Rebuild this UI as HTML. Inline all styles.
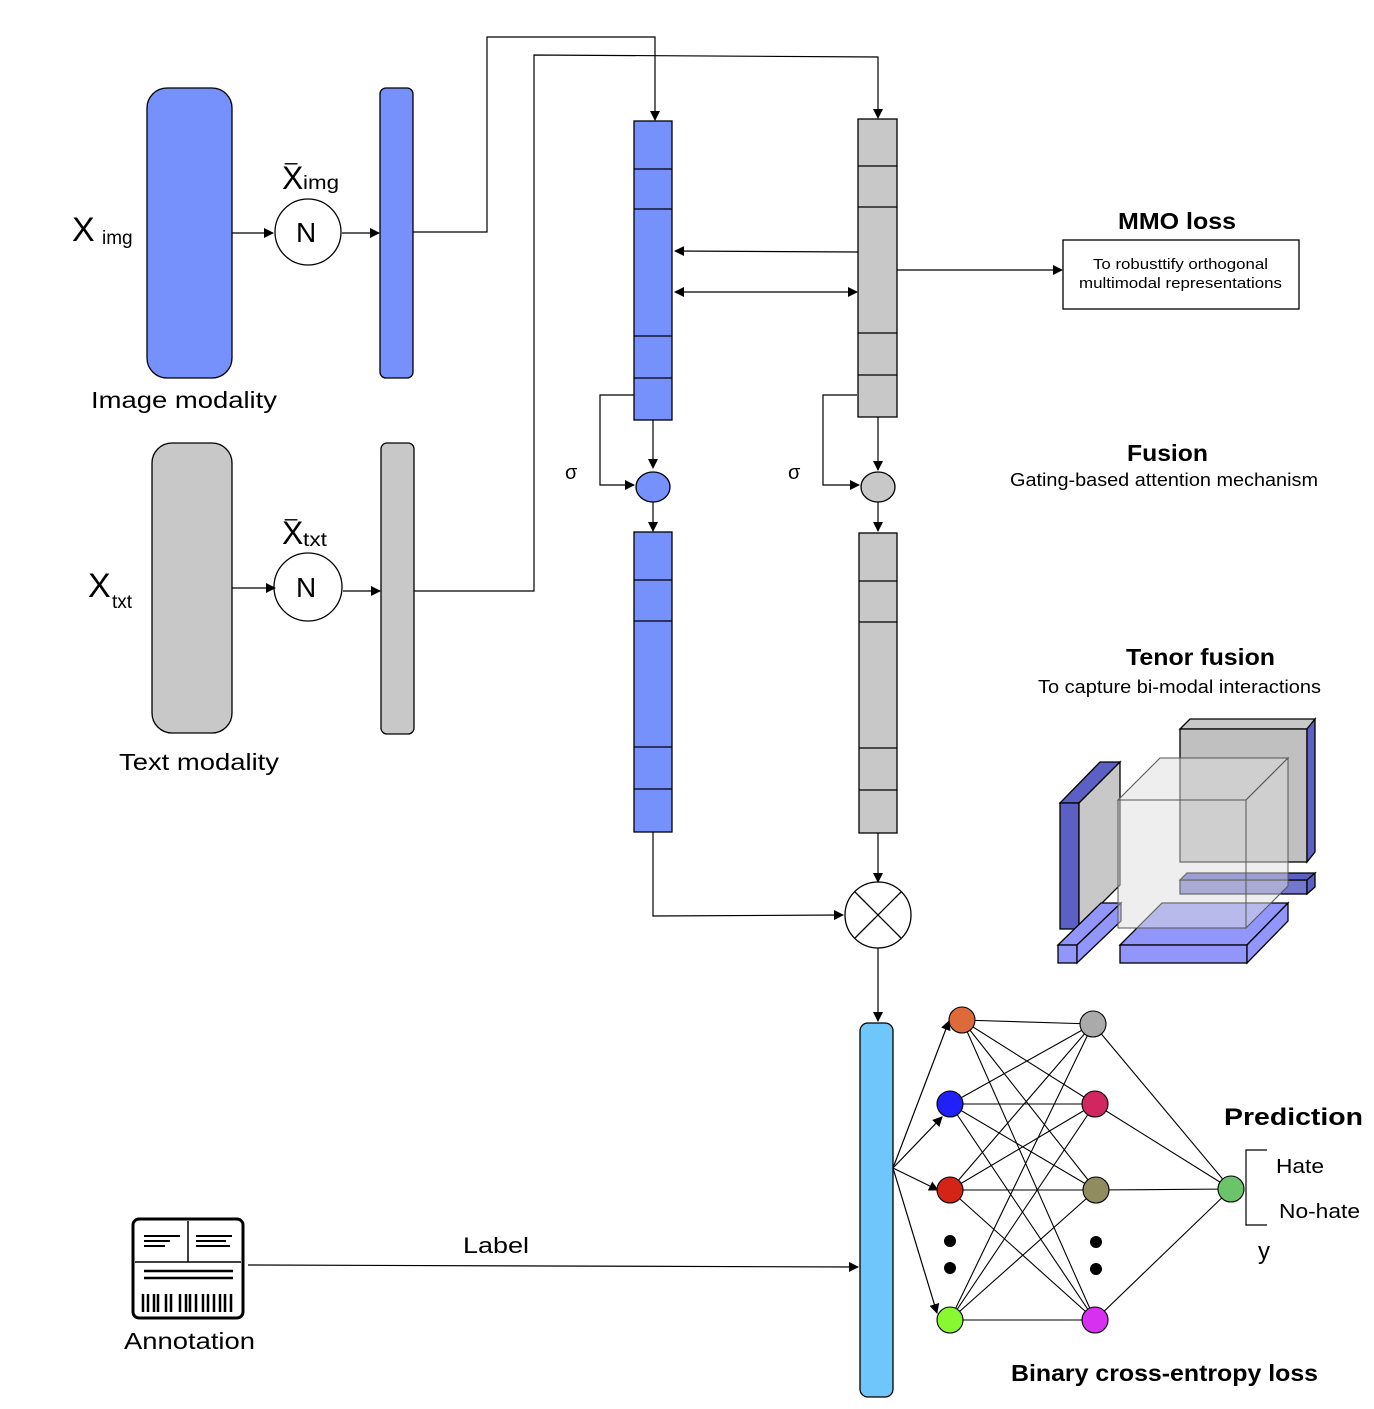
<!DOCTYPE html>
<html><head><style>body{margin:0;background:#fff}svg{display:block}text{font-family:"Liberation Sans",Arial,sans-serif}</style></head><body>
<svg width="1374" height="1409" viewBox="0 0 1374 1409" xmlns="http://www.w3.org/2000/svg">
<defs><marker id="a" markerWidth="10" markerHeight="10" refX="9" refY="5" orient="auto-start-reverse" markerUnits="userSpaceOnUse"><path d="M0,0 L10,5 L0,10 z" fill="#000"/></marker></defs>
<g stroke="#000" stroke-width="1.3">
<rect x="147" y="88" width="85" height="290" rx="20" fill="#7690fc"/>
<rect x="380" y="88" width="33" height="290" rx="6" fill="#7690fc"/>
<rect x="152" y="443" width="80" height="290" rx="20" fill="#c8c8c8"/>
<rect x="381" y="443" width="33" height="291" rx="6" fill="#c8c8c8"/>
<circle cx="308" cy="232" r="33" fill="#fff"/>
<circle cx="308" cy="587" r="34" fill="#fff"/>
<rect x="634" y="121" width="38" height="299" fill="#7690fc"/>
<path d="M634 169H672M634 209H672M634 336H672M634 378H672" fill="none"/>
<rect x="858" y="119" width="39" height="298" fill="#c8c8c8"/>
<path d="M858 166H897M858 207H897M858 333H897M858 375H897" fill="none"/>
<ellipse cx="653" cy="487" rx="17" ry="15" fill="#7690fc"/>
<ellipse cx="878" cy="487" rx="17" ry="15" fill="#c8c8c8"/>
<rect x="634" y="532" width="38" height="300" fill="#7690fc"/>
<path d="M634 580H672M634 621H672M634 747H672M634 789H672" fill="none"/>
<rect x="859" y="533" width="38" height="300" fill="#c8c8c8"/>
<path d="M859 581H897M859 622H897M859 748H897M859 790H897" fill="none"/>
<circle cx="878" cy="915" r="33" fill="#fff"/>
<path d="M855 892L901 938M901 892L855 938" fill="none"/>
<rect x="860" y="1023" width="33" height="374" rx="8" fill="#6ec6fb"/>
<rect x="1063" y="240" width="236" height="69" fill="#fff"/>
</g>
<g stroke="#000" stroke-width="1.2" fill="none" marker-end="url(#a)">
<path d="M232 233H273"/><path d="M342 233H379"/>
<path d="M232 588H275"/><path d="M343 591H380"/>
<path d="M413 232H487V37H655V120"/>
<path d="M414 591H534V55L878 57V118"/>
<path d="M858 252L675 251"/>
<path d="M897 270H1062"/>
<path d="M634 395H600V485H634"/>
<path d="M857 395H823V485H859"/>
<path d="M653 420V468"/><path d="M878 417V470"/>
<path d="M653 502V531"/><path d="M878 502V531"/>
<path d="M653 832V916L843 915"/>
<path d="M878 833V882"/>
<path d="M878 948V1021"/>
<path d="M248 1265L858 1267"/>
<path d="M893 1168L949 1021"/><path d="M893 1168L942 1117"/><path d="M893 1168L938 1190"/><path d="M893 1168L937 1313"/>
</g>
<path d="M675 292H857" stroke="#000" stroke-width="1.2" fill="none" marker-start="url(#a)" marker-end="url(#a)"/>
<g stroke="#000" stroke-width="1.1">
<path d="M962 1020L1093 1024M962 1020L1095 1104M962 1020L1096 1190M962 1020L1095 1320M950 1104L1093 1024M950 1104L1095 1104M950 1104L1096 1190M950 1104L1095 1320M950 1190L1093 1024M950 1190L1095 1104M950 1190L1096 1190M950 1190L1095 1320M950 1320L1093 1024M950 1320L1095 1104M950 1320L1096 1190M950 1320L1095 1320M1093 1024L1231 1189M1095 1104L1231 1189M1096 1190L1231 1189M1095 1320L1231 1189"/>
<circle cx="962" cy="1020" r="13" fill="#dc6a3a"/>
<circle cx="950" cy="1104" r="13" fill="#2020f8"/>
<circle cx="950" cy="1190" r="13" fill="#d42418"/>
<circle cx="950" cy="1320" r="13" fill="#88f830"/>
<circle cx="1093" cy="1024" r="13" fill="#aaa"/>
<circle cx="1095" cy="1104" r="13" fill="#d22660"/>
<circle cx="1096" cy="1190" r="13" fill="#908c60"/>
<circle cx="1095" cy="1320" r="13" fill="#d830f0"/>
<circle cx="1231" cy="1189" r="13" fill="#6cc46a"/>
</g>
<g fill="#000"><circle cx="950" cy="1241" r="6"/><circle cx="950" cy="1268" r="6"/><circle cx="1096" cy="1242" r="6"/><circle cx="1096" cy="1269" r="6"/></g>
<path d="M1267 1150H1246V1225H1267" stroke="#000" stroke-width="1.2" fill="none"/>
<g stroke="#000" stroke-width="1.3">
<polygon points="1060,803 1100,762 1120,762 1079,803" fill="#5c60c4"/>
<rect x="1060" y="803" width="19" height="126" fill="#5c60c4"/>
<polygon points="1079,803 1120,762 1120,885 1079,926" fill="#c8c8c8"/>
<polygon points="1058,945 1101,903 1121,903 1077,945" fill="#9296fa"/>
<rect x="1058" y="945" width="19" height="18" fill="#9296fa"/>
<polygon points="1077,945 1121,903 1121,921 1077,963" fill="#9296fa"/>
<polygon points="1180,729 1190,719 1315,719 1307,729" fill="#c8c8c8"/>
<rect x="1180" y="729" width="127" height="133" fill="#c0c0c0"/>
<polygon points="1307,729 1315,719 1315,852 1307,862" fill="#5c60c4"/>
<rect x="1180" y="880" width="127" height="14" fill="#5c60c4" fill-opacity="0.85"/>
<polygon points="1180,880 1187,873 1315,873 1307,880" fill="#5c60c4"/>
<polygon points="1307,880 1315,873 1315,887 1307,894" fill="#5c60c4"/>
<polygon points="1120,945 1162,903 1288,903 1247,945" fill="#9296fa"/>
<rect x="1120" y="945" width="127" height="18" fill="#9296fa"/>
<polygon points="1247,945 1288,903 1288,921 1247,963" fill="#9296fa"/>
</g>
<g stroke="#555" stroke-width="1" fill="#ddd" fill-opacity="0.5">
<polygon points="1118,800 1160,758 1288,758 1246,800"/>
<rect x="1118" y="800" width="128" height="128"/>
<polygon points="1246,800 1288,758 1288,886 1246,928"/>
</g>
<g stroke="#000" fill="none">
<rect x="133" y="1219" width="110" height="99" rx="6" stroke-width="3"/>
<path d="M188 1221V1262M135 1262H241" stroke-width="1.5"/>
<path d="M144 1236H180M144 1241H170M144 1246H165M196 1236H232M196 1241H226M196 1246H230" stroke-width="2"/>
<path d="M144 1271H233M144 1278H233" stroke-width="2.5"/>
<path d="M143 1294v18M148 1294v18M154 1294v18M158 1294v18M166 1294v18M171 1294v18M180 1294v18M186 1294v18M190 1294v18M196 1294v18M203 1294v18M208 1294v18M214 1294v18M220 1294v18M225 1294v18M231 1294v18" stroke-width="2.5"/>
</g>
<g fill="#000" lengthAdjust="spacingAndGlyphs">
<text x="72" y="241" font-size="34">X</text><text x="102" y="244" font-size="19">img</text>
<text x="282" y="189" font-size="32">X</text><text x="303" y="189" font-size="19" textLength="36" lengthAdjust="spacingAndGlyphs">img</text>
<text x="285" y="160" font-size="22">_</text>
<text x="88" y="597" font-size="34">X</text><text x="112" y="608" font-size="19">txt</text>
<text x="282" y="544" font-size="32">X</text><text x="303" y="546" font-size="19" textLength="24" lengthAdjust="spacingAndGlyphs">txt</text>
<text x="285" y="516" font-size="22">_</text>
<text x="296" y="242" font-size="28">N</text>
<text x="296" y="597" font-size="28">N</text>
<text x="91" y="408" font-size="23" textLength="186" lengthAdjust="spacingAndGlyphs">Image modality</text>
<text x="119" y="770" font-size="23" textLength="160" lengthAdjust="spacingAndGlyphs">Text modality</text>
<text x="565" y="479" font-size="20">σ</text>
<text x="788" y="479" font-size="20">σ</text>
<text x="1118" y="229" font-size="23" font-weight="bold" textLength="118" lengthAdjust="spacingAndGlyphs">MMO loss</text>
<text x="1093" y="269" font-size="15" textLength="175" lengthAdjust="spacingAndGlyphs">To robusttify orthogonal</text>
<text x="1079" y="288" font-size="15" textLength="203" lengthAdjust="spacingAndGlyphs">multimodal representations</text>
<text x="1127" y="461" font-size="23" font-weight="bold" textLength="81" lengthAdjust="spacingAndGlyphs">Fusion</text>
<text x="1010" y="486" font-size="18" textLength="308" lengthAdjust="spacingAndGlyphs">Gating-based attention mechanism</text>
<text x="1126" y="665" font-size="23" font-weight="bold" textLength="149" lengthAdjust="spacingAndGlyphs">Tenor fusion</text>
<text x="1038" y="693" font-size="18" textLength="283" lengthAdjust="spacingAndGlyphs">To capture bi-modal interactions</text>
<text x="1224" y="1125" font-size="24" font-weight="bold" textLength="139" lengthAdjust="spacingAndGlyphs">Prediction</text>
<text x="1276" y="1173" font-size="20" textLength="48" lengthAdjust="spacingAndGlyphs">Hate</text>
<text x="1279" y="1218" font-size="20" textLength="81" lengthAdjust="spacingAndGlyphs">No-hate</text>
<text x="1258" y="1259" font-size="24">y</text>
<text x="463" y="1253" font-size="22" textLength="66" lengthAdjust="spacingAndGlyphs">Label</text>
<text x="124" y="1349" font-size="23" textLength="131" lengthAdjust="spacingAndGlyphs">Annotation</text>
<text x="1011" y="1381" font-size="23" font-weight="bold" textLength="307" lengthAdjust="spacingAndGlyphs">Binary cross-entropy loss</text>
</g>
</svg>
</body></html>
